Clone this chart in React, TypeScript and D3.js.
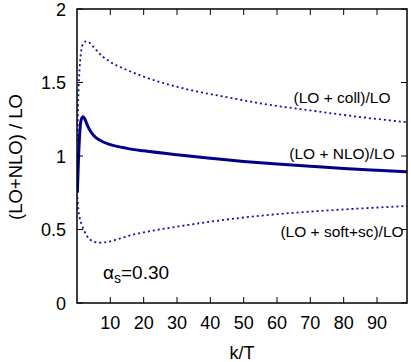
import React from "react";
import * as d3 from "d3";

const kNLO = [0.1, 0.4, 0.8, 1.2, 1.8, 2.4, 3, 4, 5, 7, 10, 15, 20, 30, 40, 50, 60, 70, 80, 90, 99];
const nlo = [0.75, 0.95, 1.15, 1.24, 1.267, 1.25, 1.215, 1.17, 1.14, 1.105, 1.077, 1.052, 1.035, 1.008, 0.985, 0.963, 0.945, 0.93, 0.915, 0.903, 0.893];

const kColl = [0.1, 0.4, 0.8, 1.3, 2, 2.7, 3.5, 5, 7.5, 10, 15, 20, 33, 45, 55, 70, 85, 99];
const coll = [1.1, 1.4, 1.6, 1.72, 1.77, 1.78, 1.775, 1.74, 1.68, 1.64, 1.585, 1.54, 1.454, 1.4, 1.358, 1.31, 1.265, 1.23];

const kSoft = [0.1, 0.4, 0.8, 1.3, 2, 3, 4, 5, 6.5, 8, 10, 13, 16, 20, 33, 45, 57.5, 70, 85, 99];
const soft = [0.72, 0.64, 0.58, 0.54, 0.5, 0.455, 0.43, 0.418, 0.41, 0.412, 0.42, 0.44, 0.46, 0.48, 0.53, 0.568, 0.599, 0.622, 0.643, 0.66];

const xTicks = [10, 20, 30, 40, 50, 60, 70, 80, 90];
const yTicks = [0, 0.5, 1, 1.5, 2];
const yTickLabels = ["0", "0.5", "1", "1.5", "2"];

const W = 411;
const H = 362;
const L = 77, R = 407, T = 9, B = 303;

export default function App() {
  const x = d3.scaleLinear().domain([0, 99]).range([L, R]);
  const y = d3.scaleLinear().domain([0, 2]).range([B, T]);
  const line = d3
    .line<[number, number]>()
    .x((d) => x(d[0]))
    .y((d) => y(d[1]))
    .curve(d3.curveMonotoneX);
  const pts = (ks: number[], vs: number[]) => ks.map((k, i) => [k, vs[i]] as [number, number]);
  const font = "Liberation Sans, Arial, Helvetica, sans-serif";
  const tl = 6;
  return (
    <svg width={W} height={H} style={{ position: "absolute", left: 0, top: 0 }} fontFamily={font}>
      <rect x={0} y={0} width={W} height={H} fill="white" />
      <defs>
        <clipPath id="clip">
          <rect x={L} y={T} width={R - L} height={B - T} />
        </clipPath>
      </defs>
      <g clipPath="url(#clip)" fill="none">
        <path d={line(pts(kColl, coll)) || ""} stroke="#1010a8" strokeWidth={1.8} strokeDasharray="2,3" />
        <path d={line(pts(kSoft, soft)) || ""} stroke="#1010a8" strokeWidth={1.8} strokeDasharray="2,3" />
        <path d={line(pts(kNLO, nlo)) || ""} stroke="#00008b" strokeWidth={3} />
      </g>
      {xTicks.map((t) => (
        <g key={"x" + t}>
          <line x1={x(t)} x2={x(t)} y1={B} y2={B - tl} stroke="black" strokeWidth={1} />
          <line x1={x(t)} x2={x(t)} y1={T} y2={T + tl} stroke="black" strokeWidth={1} />
          <text x={x(t)} y={329} fontSize={18} textAnchor="middle">{t}</text>
        </g>
      ))}
      {yTicks.map((t, i) => (
        <g key={"y" + t}>
          <line x1={L} x2={L + tl} y1={y(t)} y2={y(t)} stroke="black" strokeWidth={1} />
          <line x1={R} x2={R - tl} y1={y(t)} y2={y(t)} stroke="black" strokeWidth={1} />
          <text x={66} y={y(t) + 6.5} fontSize={18} textAnchor="end">{yTickLabels[i]}</text>
        </g>
      ))}
      <rect x={L} y={T} width={R - L} height={B - T} fill="none" stroke="black" strokeWidth={1.5} />
      <text x={(L + R) / 2} y={359} fontSize={18} textAnchor="middle">k/T</text>
      <text transform={`translate(${22},${157}) rotate(-90)`} fontSize={18.5} textAnchor="middle">(LO+NLO) / LO</text>
      <text x={342} y={103} fontSize={15.5} textAnchor="middle">(LO + coll)/LO</text>
      <text x={342} y={159} fontSize={15.5} textAnchor="middle">(LO + NLO)/LO</text>
      <text x={342} y={237} fontSize={15.5} textAnchor="middle">(LO + soft+sc)/LO</text>
      <text x={103} y={279} fontSize={19}>
        α<tspan fontSize={14} dy={4}>s</tspan><tspan dy={-4}>=0.30</tspan>
      </text>
    </svg>
  );
}
